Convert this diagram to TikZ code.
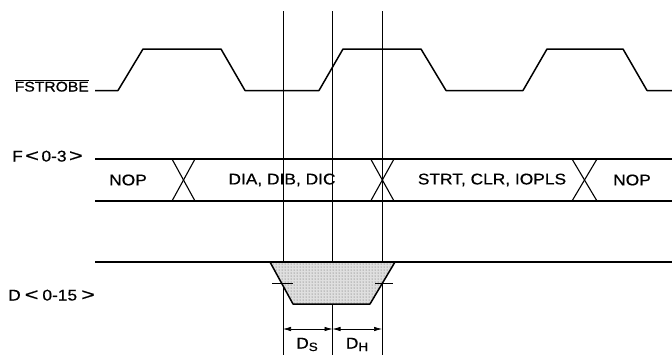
\documentclass[tikz,border=0pt]{standalone}
\usepackage{fontspec}
\setmainfont{Liberation Sans}[FakeStretch=1.12,FakeBold=0.6]
\usetikzlibrary{patterns,arrows.meta}
\newcommand{\ltsym}{\scalebox{1.35}[1.12]{<}}
\newcommand{\gtsym}{\scalebox{1.35}[1.12]{>}}
\begin{document}
\begin{tikzpicture}[x=1pt,y=-1pt,
  wave/.style={line width=1.5pt,line join=round},
  bus/.style={line width=1.4pt},
  xing/.style={line width=1.1pt},
  guide/.style={line width=0.6pt},
  lbl/.style={font=\fontsize{15.5}{18}\selectfont,inner sep=0pt},
  dim/.style={line width=0.7pt,{Latex[length=8pt,width=4.5pt]}-{Latex[length=8pt,width=4.5pt]}}]
\useasboundingbox (0,0) rectangle (672,354);
% guide lines
\foreach \n/\x in {a/283,b/332.5,c/382}{
  \coordinate (t\n) at (\x,11);
  \coordinate (b\n) at (\x,356);
  \draw[guide] (t\n) -- (b\n);
}
% FSTROBE
\node[lbl,font=\fontsize{14}{17}\selectfont,anchor=base east] (fs) at (89,91.5) {$\overline{\mbox{FSTROBE}}$};
\draw[wave] (95,90.5) -- (118,90.5) -- (143,49) -- (221,49) -- (245,90.5) -- (319,90.5)
  -- (343,49) -- (421,49) -- (446,90.5) -- (523,90.5) -- (547,49) -- (623,49)
  -- (647,90.5) -- (672,90.5);
% F<0-3>
\node[lbl,anchor=base west] (fl) at (12,161.5) {F\hspace{2.5pt}\ltsym\hspace{2.5pt}0-3\hspace{2.5pt}\gtsym};
\draw[bus] (95,159) -- (672,159);
\draw[bus] (95,201) -- (672,201);
\foreach \xa/\xb in {172/195,370.7/394,572/597}{
  \draw[xing] (\xa,159) -- (\xb,201);
  \draw[xing] (\xa,201) -- (\xb,159);
}
\node[lbl] (n1) at (128,180) {NOP};
\node[lbl] (n2) at (282,180) {DIA, DIB, DIC};
\node[lbl] (n3) at (492,180) {STRT, CLR, IOPLS};
\node[lbl] (n4) at (632,180) {NOP};
% D<0-15>
\node[lbl,anchor=base west] (dl) at (8,300.5) {D\hspace{4pt}\ltsym\hspace{4pt}0-15\hspace{4pt}\gtsym};
\fill[gray!25] (270,262) -- (293,304) -- (370,304) -- (395,262) -- cycle;
\fill[pattern=dots,pattern color=gray!70!black] (270,262) -- (293,304) -- (370,304) -- (395,262) -- cycle;
\draw[wave] (95,262) -- (672,262);
\draw[wave] (270,262) -- (293,304) -- (370,304) -- (395,262);
\draw[guide] (272,283) -- (293,283);
\draw[guide] (375,283) -- (393,283);
% dimensions
\coordinate (da) at (283,329);
\coordinate (db) at (332.5,329);
\coordinate (dc) at (382,329);
\draw[dim] (da) -- (db);
\draw[dim] (db) -- (dc);
\node[lbl,anchor=base] (ds) at (307,348.5) {D\raisebox{-2.5pt}{\fontsize{12}{13}\selectfont S}};
\node[lbl,anchor=base] (dh) at (357,348.5) {D\raisebox{-2.5pt}{\fontsize{12}{13}\selectfont H}};
\end{tikzpicture}
\end{document}
